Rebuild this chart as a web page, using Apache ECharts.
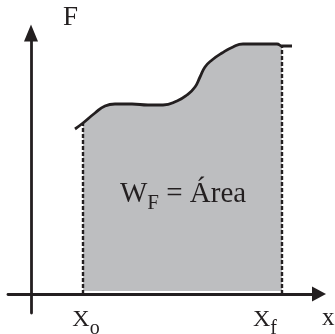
<!DOCTYPE html>
<html>
<head>
<meta charset="utf-8">
<script src="https://cdn.jsdelivr.net/npm/echarts@6/dist/echarts.min.js"></script>
<style>
  html, body { margin: 0; padding: 0; background: #fff; }
  #chart { width: 335px; height: 334px; }
</style>
</head>
<body>
<div id="chart"></div>
<script>
  // curve F(x) (units ~ pixels from origin)
  const curveX = [44, 52, 64, 74, 84, 101, 117, 132, 146, 156, 164, 169, 174, 181, 191, 202, 212, 229, 246, 251, 261];
  const curveY = [165, 171, 181, 188, 190, 190, 189, 189, 193, 199, 207, 217, 227, 234, 241, 247, 250, 250, 250, 248, 248];
  const x0 = 52;
  const xf = 251;
  const xLabels = ['o', 'f'];

  const ink = '#231f20';
  const serif = 'Liberation Serif';

  const pts = curveX.map((x, i) => [x, curveY[i]]);
  const fillPts = pts.filter(p => p[0] >= x0 && p[0] <= xf);
  const yAt = x => curveY[curveX.indexOf(x)];

  const chart = echarts.init(document.getElementById('chart'));

  const option = {
    animation: false,
    grid: { left: 8, right: 16, top: 33, bottom: 21, containLabel: false, outerBoundsMode: 'none' },
    xAxis: {
      type: 'value',
      min: -23,
      max: 288,
      axisLine: {
        onZero: true,
        symbol: ['none', 'triangle'],
        symbolSize: [15, 14],
        lineStyle: { color: ink, width: 2.8 }
      },
      axisTick: { show: false },
      splitLine: { show: false },
      axisLabel: {
        customValues: [x0, xf],
        margin: -12,
        formatter: v => v === x0
          ? '{X0|X}{s|' + xLabels[0] + '}'
          : '{X|X}{s|' + xLabels[1] + '}{pad|}',
        rich: {
          X0: { fontFamily: serif, fontSize: 24, color: ink, padding: [0, 0, 0, 6] },
          X: { fontFamily: serif, fontSize: 24, color: ink },
          s: { fontFamily: serif, fontSize: 20, color: ink, padding: [18, 0, 0, 0] },
          pad: { width: 34 }
        }
      }
    },
    yAxis: {
      type: 'value',
      min: -19,
      max: 261,
      name: 'F',
      nameLocation: 'end',
      nameGap: 2,
      nameTextStyle: {
        fontFamily: serif, fontSize: 27, color: ink,
        align: 'left', padding: [0, 0, 0, 32]
      },
      axisLine: {
        onZero: true,
        symbol: ['none', 'triangle'],
        symbolSize: [14, 17],
        lineStyle: { color: ink, width: 2.8 }
      },
      axisTick: { show: false },
      axisLabel: { show: false },
      splitLine: { show: false }
    },
    graphic: [
      {
        type: 'text',
        x: 183,
        y: 194,
        z: 100,
        style: {
          text: '{w|W}{s|F}{w| = Área}',
          align: 'center',
          verticalAlign: 'middle',
          rich: {
            w: { fontFamily: serif, fontSize: 29, fill: ink },
            s: { fontFamily: serif, fontSize: 21, fill: ink, padding: [18, 0, 0, 0] }
          }
        }
      },
      {
        type: 'text',
        x: 322,
        y: 318,
        z: 100,
        style: {
          text: 'x',
          font: '25px "Liberation Serif"',
          fill: ink,
          align: 'left',
          verticalAlign: 'middle'
        }
      }
    ],
    series: [
      {
        type: 'line',
        data: fillPts,
        smooth: 0.5,
        showSymbol: false,
        lineStyle: { width: 0 },
        areaStyle: { color: '#bdbec0', opacity: 1, origin: 3 },
        z: 1
      },
      {
        type: 'line',
        data: [[x0, 0], [x0, yAt(x0)]],
        showSymbol: false,
        lineStyle: { color: ink, width: 2.4, type: [4, 2] },
        z: 2
      },
      {
        type: 'line',
        data: [[xf, 0], [xf, yAt(xf)]],
        showSymbol: false,
        lineStyle: { color: ink, width: 2.4, type: [4, 2] },
        z: 2
      },
      {
        type: 'line',
        data: pts,
        smooth: 0.5,
        showSymbol: false,
        lineStyle: { color: ink, width: 2.8 },
        z: 3
      }
    ]
  };

  chart.setOption(option);
</script>
</body>
</html>
